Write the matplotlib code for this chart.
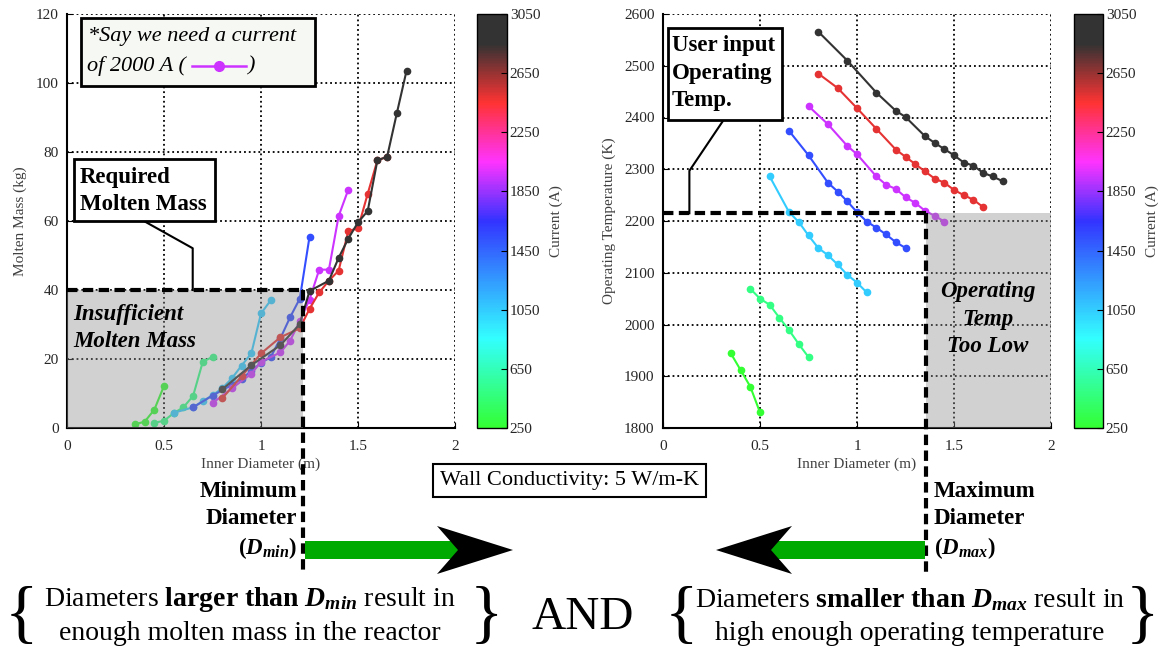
import numpy as np
import matplotlib.pyplot as plt
from matplotlib.colors import LinearSegmentedColormap, Normalize
from matplotlib.cm import ScalarMappable
from matplotlib.patches import Rectangle, Polygon
from matplotlib.lines import Line2D

plt.rcParams['font.family'] = 'Liberation Serif'
plt.rcParams['mathtext.fontset'] = 'custom'
plt.rcParams['mathtext.rm'] = 'Liberation Serif'
plt.rcParams['mathtext.it'] = 'Liberation Serif:italic'
plt.rcParams['mathtext.bf'] = 'Liberation Serif:bold'
plt.rcParams['mathtext.bfit'] = 'Liberation Serif:bold:italic'

# current of each curve (A) and colorbar ticks
currents = [250, 500, 1050, 1550, 1950, 2500, 3000]
cbar_ticks = [250, 650, 1050, 1450, 1850, 2250, 2650, 3050]

# inner diameter (m) for each current
d_250 = [0.35, 0.40, 0.45, 0.50]
d_500 = [0.45, 0.50, 0.55, 0.60, 0.65, 0.70, 0.75]
d_1000 = [0.55, 0.65, 0.70, 0.75, 0.80, 0.85, 0.90, 0.95, 1.00, 1.05]
d_1500 = [0.65, 0.75, 0.85, 0.90, 0.95, 1.00, 1.05, 1.10, 1.15, 1.20, 1.25]
d_2000 = [0.75, 0.85, 0.95, 1.00, 1.10, 1.15, 1.20, 1.25, 1.30, 1.35, 1.40, 1.45]
d_2500 = [0.80, 0.90, 1.00, 1.10, 1.20, 1.25, 1.30, 1.35, 1.40, 1.45, 1.50, 1.55, 1.60, 1.65]
d_3000 = [0.80, 0.95, 1.10, 1.20, 1.25, 1.35, 1.40, 1.45, 1.50, 1.55, 1.60, 1.65, 1.70, 1.75]

# molten mass (kg)
m_250 = [1.1, 1.8, 5.3, 12.2]
m_500 = [1.5, 2.1, 4.3, 6.0, 9.3, 19.2, 20.6]
m_1000 = [4.4, 6.0, 7.8, 9.5, 11.5, 14.4, 18.1, 21.6, 33.2, 37.0]
m_1500 = [6.0, 9.4, 12.5, 14.3, 16.5, 18.9, 20.5, 26.0, 32.1, 37.5, 55.4]
m_2000 = [7.2, 11.5, 15.7, 19.2, 21.9, 25.3, 31.0, 37.2, 45.9, 45.9, 61.4, 69.1]
m_2500 = [8.6, 15.0, 21.6, 26.3, 28.9, 34.5, 39.3, 42.7, 45.6, 57.1, 57.9, 67.9, 77.6, 78.6]
m_3000 = [11.2, 18.2, 24.0, 30.1, 39.7, 42.7, 49.3, 54.9, 59.6, 62.9, 77.6, 78.6, 91.2, 103.5]

# operating temperature (K)
t_250 = [1944, 1912, 1880, 1830]
t_500 = [2069, 2050, 2038, 2013, 1989, 1962, 1937]
t_1000 = [2286, 2217, 2198, 2172, 2148, 2134, 2116, 2096, 2081, 2062]
t_1500 = [2374, 2327, 2274, 2257, 2238, 2217, 2199, 2187, 2174, 2159, 2148]
t_2000 = [2422, 2387, 2345, 2329, 2286, 2270, 2262, 2246, 2235, 2220, 2210, 2199]
t_2500 = [2485, 2457, 2418, 2378, 2338, 2324, 2310, 2296, 2282, 2274, 2260, 2250, 2241, 2227]
t_3000 = [2566, 2510, 2448, 2413, 2401, 2364, 2351, 2339, 2327, 2313, 2307, 2293, 2286, 2277]

# thresholds
d_min, m_req = 1.215, 40
d_max, t_req = 1.355, 2215

diams = [d_250, d_500, d_1000, d_1500, d_2000, d_2500, d_3000]
masses = [m_250, m_500, m_1000, m_1500, m_2000, m_2500, m_3000]
temps = [t_250, t_500, t_1000, t_1500, t_2000, t_2500, t_3000]

nodes = [(250, (0.2, 1, 0.2)), (850, (0.2, 1, 1)), (1650, (0.2, 0.2, 1)),
         (2050, (1, 0.2, 1)), (2450, (1, 0.2, 0.2)), (2850, (0.2, 0.2, 0.2)),
         (3050, (0.2, 0.2, 0.2))]
cmap = LinearSegmentedColormap.from_list('cur', [((v - 250) / 2800, c) for v, c in nodes])
norm = Normalize(250, 3050)

W, H = 1166, 655
fig = plt.figure(figsize=(W / 100, H / 100), dpi=100)


def fp(x, y):
    return (x / W, 1 - y / H)


ax1 = fig.add_axes([67 / W, 1 - 428 / H, 388 / W, 414 / H])
ax2 = fig.add_axes([663 / W, 1 - 428 / H, 388 / W, 414 / H])
cax1 = fig.add_axes([477 / W, 1 - 428 / H, 30 / W, 414 / H])
cax2 = fig.add_axes([1074 / W, 1 - 428 / H, 29 / W, 414 / H])


def style(ax, ylim, yticks, ylabel):
    ax.set_xlim(0, 2)
    ax.set_ylim(*ylim)
    ax.set_xticks([0, 0.5, 1, 1.5, 2])
    ax.set_xticklabels(['0', '0.5', '1', '1.5', '2'])
    ax.set_yticks(yticks)
    ax.grid(True, linestyle=':', color='black', linewidth=1.3)
    ax.set_axisbelow(True)
    for s in ['top', 'right']:
        ax.spines[s].set_visible(False)
    for s in ['left', 'bottom']:
        ax.spines[s].set_linewidth(1.5)
    ax.tick_params(direction='in', length=4, labelsize=11, labelcolor='#262626')
    ax.tick_params(axis='x', pad=9)
    ax.tick_params(axis='y', pad=6)
    ax.set_xlabel('Inner Diameter (m)', fontsize=11, color='#404040', labelpad=3)
    ax.set_ylabel(ylabel, fontsize=11, color='#404040', labelpad=6)


style(ax1, (0, 120), range(0, 121, 20), 'Molten Mass (kg)')
style(ax2, (1800, 2600), range(1800, 2601, 100), 'Operating Temperature (K)')

for cur, d, m, t in zip(currents, diams, masses, temps):
    c = cmap(norm(cur))
    ax1.plot(d, m, '-o', color=c, lw=1.5, ms=4.5, zorder=2)
    ax2.plot(d, t, '-o', color=c, lw=1.5, ms=4.5, zorder=2)

# shaded regions
ax1.add_patch(Rectangle((0, 0), d_min, m_req, fc=(0.55, 0.55, 0.55), alpha=0.4, ec='none', zorder=3))
ax2.add_patch(Rectangle((d_max, 1800), 2 - d_max, t_req - 1800, fc=(0.55, 0.55, 0.55),
                        alpha=0.4, ec='none', zorder=3))

dash = dict(color='black', lw=3, linestyle=(0, (2.5, 1.3)), zorder=4, clip_on=False)
ax1.plot([0, d_min], [m_req, m_req], **dash)
ax1.plot([d_min, d_min], [m_req / 120, -0.348], transform=ax1.get_xaxis_transform(), **dash)
ax2.plot([0, d_max], [t_req, t_req], **dash)
ax2.plot([d_max, d_max], [(t_req - 1800) / 800, -0.348], transform=ax2.get_xaxis_transform(), **dash)

# leader lines
ax1.plot([0.393, 0.648, 0.648], [60.1, 52.1, m_req], color='black', lw=1.5, zorder=4)
ax2.plot([0.312, 0.136, 0.136], [2395, 2297, t_req], color='black', lw=1.5, zorder=4)

# colorbars
sm = ScalarMappable(norm=norm, cmap=cmap)
for cax in (cax1, cax2):
    cb = fig.colorbar(sm, cax=cax, ticks=cbar_ticks)
    cb.ax.tick_params(direction='in', length=4, labelsize=11, labelcolor='#262626', pad=2)
    cb.outline.set_linewidth(1)
    cb.set_label('Current (A)', fontsize=11, color='#404040', labelpad=7)


def box(x0, y0, x1, y1, fc='white', lw=2):
    fig.add_artist(Rectangle(fp(x0, y1), (x1 - x0) / W, (y1 - y0) / H, transform=fig.transFigure,
                             fc=fc, ec='black', lw=lw, zorder=6))


def ftext(x, y, s, **kw):
    kw.setdefault('va', 'center')
    kw.setdefault('zorder', 7)
    fig.text(*fp(x, y), s, **kw)


# boxes with annotations
box(81, 18, 315, 86, fc='#F6F8F3')
ftext(88, 37, '*Say we need a current', fontsize=16, style='italic')
ftext(87, 66, 'of 2000 A (', fontsize=16, style='italic')
ftext(247, 66, ')', fontsize=16, style='italic')
mag = cmap(norm(1950))
fig.add_artist(Line2D([192 / W, 219 / W, 246 / W], [1 - 66 / H] * 3, color=mag, lw=1.8,
                      marker='o', ms=7, markevery=[1], zorder=7))

box(74, 159, 215, 221)
ftext(80, 191, 'Required\nMolten Mass', fontsize=16.5, weight='bold', linespacing=1.42)
ftext(73, 328, 'Insufficient\nMolten Mass', fontsize=16.5, weight='bold', style='italic',
      linespacing=1.42)

box(668, 28, 782, 120)
ftext(672, 73, 'User input\nOperating\nTemp.', fontsize=16.5, weight='bold', linespacing=1.42)
ftext(988, 319, 'Operating\nTemp\nToo Low', fontsize=16.5, weight='bold', style='italic',
      ha='center', linespacing=1.42)

box(433, 464, 706, 497, lw=1.5)
ftext(570, 481, 'Wall Conductivity: 5 W/m-K', fontsize=16, ha='center')

ftext(297, 521, 'Minimum\nDiameter\n($\\mathbfit{D}_{\\mathbfit{min}}$)', fontsize=16.5,
      weight='bold', ha='right', linespacing=1.35)
ftext(934, 521, 'Maximum\nDiameter\n($\\mathbfit{D}_{\\mathbfit{max}}$)', fontsize=16.5,
      weight='bold', ha='left', linespacing=1.35)

# arrows
green = '#00AA00'
fig.add_artist(Rectangle(fp(305, 559), 155 / W, 18 / H, transform=fig.transFigure, fc=green, ec='none'))
fig.add_artist(Polygon([fp(513, 550), fp(437, 526), fp(458, 550), fp(437, 574)],
                       transform=fig.transFigure, fc='black', ec='none'))
fig.add_artist(Rectangle(fp(768, 559), 157 / W, 18 / H, transform=fig.transFigure, fc=green, ec='none'))
fig.add_artist(Polygon([fp(716, 550), fp(792, 526), fp(771, 550), fp(792, 574)],
                       transform=fig.transFigure, fc='black', ec='none'))

# bottom statement
ftext(250, 600, 'Diameters $\\mathbf{larger\\ than}\\ \\mathbfit{D}_{\\mathbfit{min}}$ result in',
      fontsize=20, ha='center')
ftext(250, 634, 'enough molten mass in the reactor', fontsize=20, ha='center')
ftext(910, 600, 'Diameters $\\mathbf{smaller\\ than}\\ \\mathbfit{D}_{\\mathbfit{max}}$ result in',
      fontsize=20, ha='center')
ftext(910, 634, 'high enough operating temperature', fontsize=20, ha='center')
ftext(583, 618, 'AND', fontsize=34, ha='center')
for bx, ch in [(21, '{'), (486, '}'), (681, '{'), (1142, '}')]:
    ftext(bx, 618, ch, fontsize=50, ha='center')

fig.savefig('out.png', dpi=100)
